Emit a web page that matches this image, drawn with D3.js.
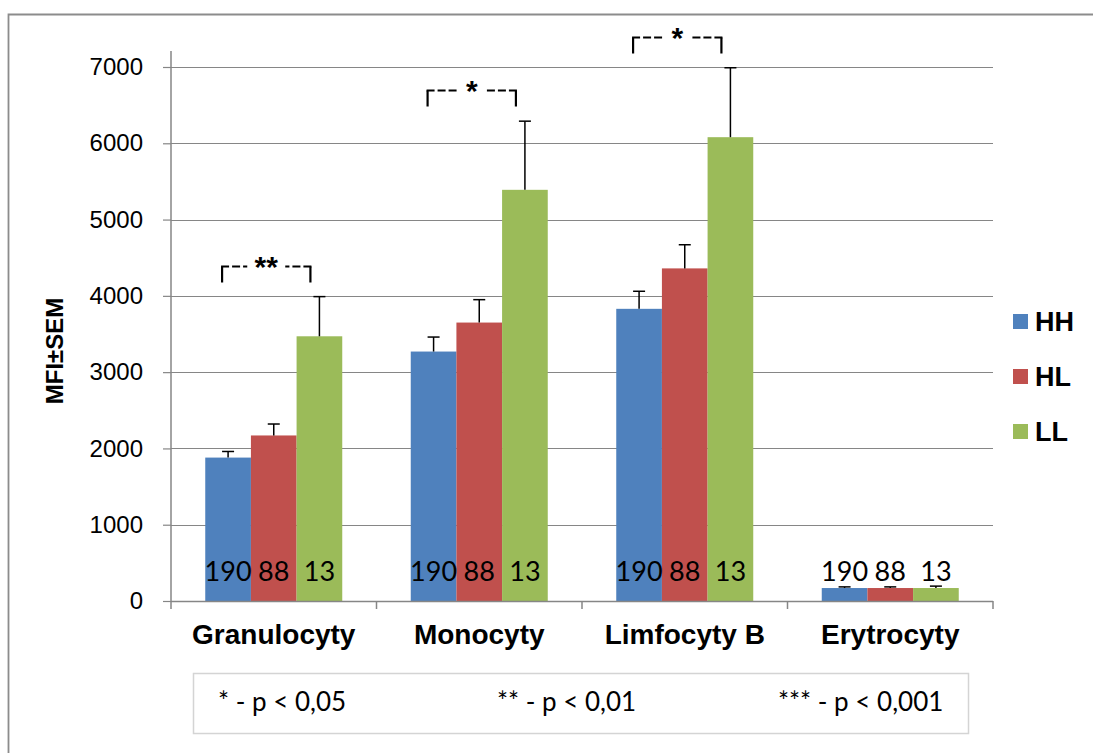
<!DOCTYPE html>
<html>
<head>
<meta charset="utf-8">
<script src="https://cdn.jsdelivr.net/npm/d3@7/dist/d3.min.js"></script>
<style>
  html, body { margin: 0; padding: 0; background: #fff; }
  svg { display: block; }
</style>
</head>
<body>
<svg id="chart" width="1093" height="753"></svg>
<script>
// Cell types on the x axis and the three genotype groups
const categories = ["Granulocyty", "Monocyty", "Limfocyty B", "Erytrocyty"];
const groups = ["HH", "HL", "LL"];
const colors = ["#4F81BD", "#C0504D", "#9BBB59"];

// Mean fluorescence intensity per group (order follows categories)
const valuesHH = [1880, 3270, 3830, 170];
const valuesHL = [2170, 3650, 4360, 170];
const valuesLL = [3470, 5390, 6080, 170];

// Upper ends of the SEM whiskers
const errHH = [1960, 3460, 4060, 185];
const errHL = [2320, 3950, 4670, 185];
const errLL = [3990, 6290, 6990, 195];

// Group sizes printed on the bars
const counts = ["190", "88", "13"];

// Significance brackets between HH and LL
const sigCategories = ["Granulocyty", "Monocyty", "Limfocyty B"];
const sigMarks = ["**", "*", "*"];

const yTicks = [0, 1000, 2000, 3000, 4000, 5000, 6000, 7000];
const legendNotes = ["* - p < 0,05", "** - p < 0,01", "*** - p < 0,001"];

const values = [valuesHH, valuesHL, valuesLL];
const errs = [errHH, errHL, errLL];

const svg = d3.select("#chart");
const plotLeft = 171, plotRight = 993, plotTop = 67, plotBottom = 601;

// Outer chart frame
svg.append("path")
  .attr("d", "M8.5,760 V14.5 H1100")
  .attr("fill", "none").attr("stroke", "#8c8c8c").attr("stroke-width", 1.8);

const x = d3.scaleBand().domain(categories).range([plotLeft, plotRight]).paddingInner(0).paddingOuter(0);
const xSub = d3.scaleBand().domain(groups)
  .range([x.bandwidth() / 6, x.bandwidth() * 5 / 6]);
const y = d3.scaleLinear().domain([0, 7000]).range([plotBottom, plotTop]);

// Horizontal gridlines
svg.append("g").selectAll("line").data(yTicks.slice(1)).join("line")
  .attr("x1", plotLeft).attr("x2", plotRight)
  .attr("y1", d => Math.round(y(d)) + 0.5).attr("y2", d => Math.round(y(d)) + 0.5)
  .attr("stroke", "#868686").attr("stroke-width", 1);

// Y axis
const yAxis = svg.append("g").attr("transform", `translate(${plotLeft},0)`)
  .call(d3.axisLeft(y).tickValues(yTicks).tickSize(8).tickPadding(20).tickFormat(d3.format("d")));
yAxis.select(".domain").remove();
yAxis.selectAll(".tick line").attr("stroke", "#868686").attr("stroke-width", 1.2);
yAxis.selectAll(".tick text")
  .attr("font-family", "'Liberation Sans', Arial, sans-serif")
  .attr("font-size", 24).attr("fill", "#000");
svg.append("line").attr("x1", plotLeft).attr("x2", plotLeft).attr("y1", 51).attr("y2", plotBottom)
  .attr("stroke", "#868686").attr("stroke-width", 1.5);

// Bars
const cats = svg.append("g").selectAll("g").data(categories).join("g")
  .attr("transform", d => `translate(${x(d)},0)`);

cats.each(function (cat, ci) {
  const g = d3.select(this);
  groups.forEach((grp, gi) => {
    const v = values[gi][ci];
    g.append("rect")
      .attr("x", xSub(grp)).attr("width", xSub.bandwidth())
      .attr("y", y(v)).attr("height", y(0) - y(v))
      .attr("fill", colors[gi]);
  });
  // whiskers
  groups.forEach((grp, gi) => {
    const v = values[gi][ci], e = errs[gi][ci];
    const cx = xSub(grp) + xSub.bandwidth() / 2;
    g.append("line").attr("x1", cx).attr("x2", cx).attr("y1", y(v)).attr("y2", y(e))
      .attr("stroke", "#000").attr("stroke-width", 1.5);
    g.append("line").attr("x1", cx - 6).attr("x2", cx + 6).attr("y1", y(e)).attr("y2", y(e))
      .attr("stroke", "#000").attr("stroke-width", 1.5);
  });
  // group sizes
  groups.forEach((grp, gi) => {
    const cx = xSub(grp) + xSub.bandwidth() / 2;
    g.append("text").attr("x", cx).attr("y", 581)
      .attr("text-anchor", "middle")
      .attr("font-family", "Lato, 'Open Sans', sans-serif")
      .attr("font-size", 27).attr("fill", "#000")
      .text(counts[gi]);
  });
});

// X axis
svg.append("line").attr("x1", plotLeft).attr("x2", plotRight)
  .attr("y1", plotBottom + 0.5).attr("y2", plotBottom + 0.5)
  .attr("stroke", "#868686").attr("stroke-width", 1.5);
const boundaries = categories.map(c => x(c)).concat([plotRight]);
svg.append("g").selectAll("line").data(boundaries).join("line")
  .attr("x1", d => d).attr("x2", d => d).attr("y1", plotBottom).attr("y2", plotBottom + 8)
  .attr("stroke", "#868686").attr("stroke-width", 1.5);
svg.append("g").selectAll("text").data(categories).join("text")
  .attr("x", d => x(d) + x.bandwidth() / 2).attr("y", 644)
  .attr("text-anchor", "middle")
  .attr("font-family", "'Liberation Sans', Arial, sans-serif")
  .attr("font-weight", "bold").attr("font-size", 28).attr("fill", "#000")
  .text(d => d);

// Y axis title
svg.append("text")
  .attr("transform", "translate(63,351) rotate(-90)")
  .attr("text-anchor", "middle")
  .attr("font-family", "'Liberation Sans', Arial, sans-serif")
  .attr("font-weight", "bold").attr("font-size", 24).attr("fill", "#000")
  .text("MFI±SEM");

// Significance brackets from HH to LL
sigCategories.forEach((cat, i) => {
  const ci = categories.indexOf(cat);
  const x1 = x(cat) + xSub("HH") + xSub.bandwidth() / 2 - 6;
  const x2 = x(cat) + xSub("LL") + xSub.bandwidth() / 2 - 9;
  const yTop = Math.round(y(errLL[ci]) - 31) + 0.5;
  const mid = (x1 + x2) / 2;
  const gap = sigMarks[i].length * 8 + 3;
  const b = svg.append("g");
  b.append("path").attr("d", `M${x1},${yTop + 16} V${yTop}`)
    .attr("fill", "none").attr("stroke", "#000").attr("stroke-width", 2.2);
  b.append("path").attr("d", `M${x2},${yTop + 16} V${yTop}`)
    .attr("fill", "none").attr("stroke", "#000").attr("stroke-width", 2.2);
  // dashed arms, laid out from each corner toward the stars
  const arm = (from, to) => {
    const dir = to > from ? 1 : -1;
    const segs = [];
    for (let p = from; dir * (to - p) > 2; p += dir * 11) {
      const end = dir > 0 ? Math.min(p + 8 * dir, to) : Math.max(p + 8 * dir, to);
      segs.push(`M${p},${yTop} H${end}`);
    }
    b.append("path").attr("d", segs.join(" "))
      .attr("fill", "none").attr("stroke", "#000").attr("stroke-width", 2);
  };
  arm(x1 - 1, mid - gap);
  arm(x2 + 1, mid + gap);
  b.append("text").attr("x", mid).attr("y", yTop + 10)
    .attr("text-anchor", "middle")
    .attr("font-family", "'Liberation Sans', Arial, sans-serif")
    .attr("font-weight", "bold")
    .attr("font-size", 30).attr("fill", "#000")
    .text(sigMarks[i]);
});

// Series legend
const leg = svg.append("g").selectAll("g").data(groups).join("g")
  .attr("transform", (d, i) => `translate(1013,${314 + i * 55})`);
leg.append("rect").attr("width", 15).attr("height", 15).attr("fill", (d, i) => colors[i]);
leg.append("text").attr("x", 22).attr("y", 17)
  .attr("font-family", "'Liberation Sans', Arial, sans-serif")
  .attr("font-weight", "bold").attr("font-size", 27).attr("fill", "#000")
  .text(d => d);

// Significance-level key
svg.append("rect").attr("x", 193.5).attr("y", 673.5).attr("width", 775).attr("height", 60)
  .attr("fill", "#fff").attr("stroke", "#d4d4d4").attr("stroke-width", 1.5);
const noteX = [218, 497, 778];
svg.append("g").selectAll("text").data(legendNotes).join("text")
  .attr("x", (d, i) => noteX[i]).attr("y", 711)
  .attr("font-family", "Lato, 'Open Sans', sans-serif")
  .attr("font-size", 26).attr("fill", "#000")
  .text(d => d);
</script>
</body>
</html>
